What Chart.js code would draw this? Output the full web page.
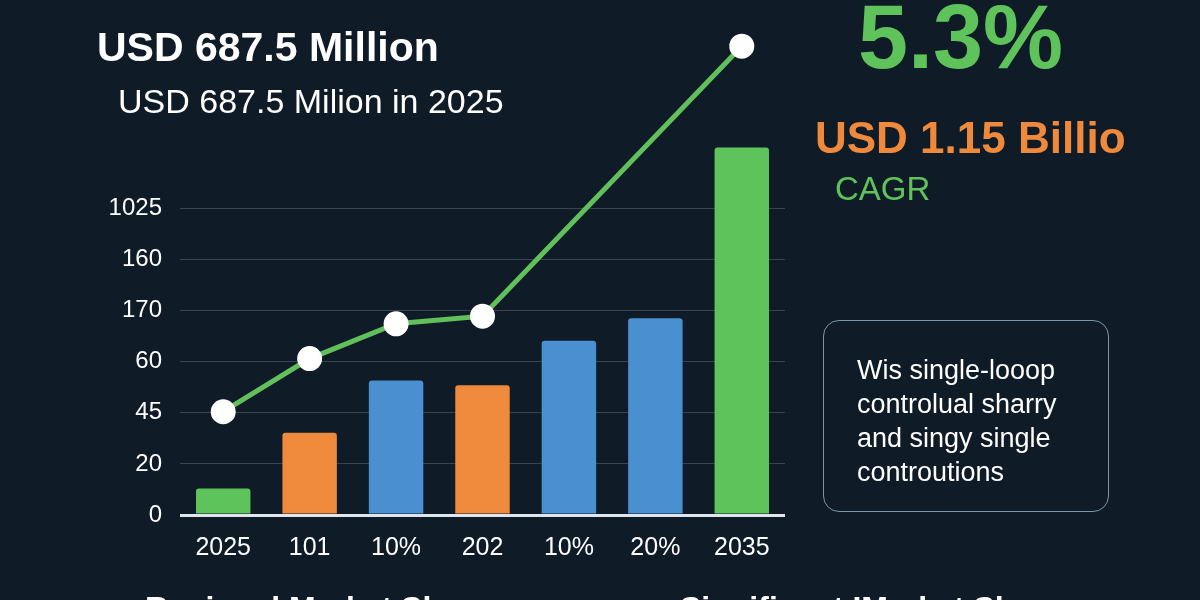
<!DOCTYPE html>
<html>
<head>
<meta charset="utf-8">
<script src="https://cdn.jsdelivr.net/npm/chart.js@4"></script>
<style>
  body { margin: 0; width: 1200px; height: 600px; overflow: hidden; background: #0f1b27; font-family: "Liberation Sans", Arial, sans-serif; color: #fff; position: relative; }
  #wrap { position: absolute; left: 0; top: 0; width: 1200px; height: 600px; }
  .t { position: absolute; white-space: nowrap; }
  #box { position: absolute; left: 823px; top: 320px; width: 286px; height: 192px; border: 1.5px solid #7f95aa; border-radius: 16px; box-sizing: border-box; padding: 32px 0 0 33px; font-size: 27px; line-height: 34px; }
</style>
</head>
<body>
<div id="wrap"><canvas id="grafico" width="1200" height="600"></canvas></div>
<div class="t" style="left:97px;top:24px;font-size:41px;font-weight:bold;">USD 687.5 Million</div>
<div class="t" style="left:118px;top:82px;font-size:34px;">USD 687.5 Milion in 2025</div>
<div class="t" style="left:858px;top:-14px;font-size:90px;font-weight:bold;color:#5fc35c;">5.3%</div>
<div class="t" style="left:815px;top:113px;font-size:44px;font-weight:bold;color:#ef8a3c;">USD 1.15 Billio</div>
<div class="t" style="left:835px;top:170px;font-size:33px;color:#5fc35c;">CAGR</div>
<div id="box">Wis single-looop<br>controlual sharry<br>and singy single<br>controutions</div>
<div class="t" style="left:145px;top:590px;font-size:32px;font-weight:bold;">Regional Market Share</div>
<div class="t" style="left:680px;top:590px;font-size:32px;font-weight:bold;">Significant IMarket Sh</div>
<script>
// Datos del gráfico
const categorias = ['2025', '101', '10%', '202', '10%', '20%', '2035'];
const valoresBarras = [0.52, 1.61, 2.63, 2.54, 3.41, 3.85, 7.19];
const coloresBarras = ['#5fc35c', '#ef8a3c', '#4a90d0', '#ef8a3c', '#4a90d0', '#4a90d0', '#5fc35c'];
const valoresLinea = [2.02, 3.06, 3.74, 3.89, null, null, 9.17];
const etiquetasY = ['0', '20', '45', '60', '170', '160', '1025'];

const ctx = document.getElementById('grafico').getContext('2d');
new Chart(ctx, {
  data: {
    labels: categorias,
    datasets: [{
      type: 'line',
      data: valoresLinea,
      borderColor: '#62c05c',
      borderWidth: 5,
      pointBackgroundColor: '#ffffff',
      pointBorderColor: '#ffffff',
      pointRadius: 10,
      spanGaps: true,
      clip: false,
      order: 0
    }, {
      type: 'bar',
      data: valoresBarras,
      backgroundColor: coloresBarras,
      borderRadius: 3,
      barPercentage: 0.63,
      categoryPercentage: 1,
      order: 1
    }]
  },
  options: {
    responsive: false,
    animation: false,
    layout: { autoPadding: false, padding: { top: 5, right: 415, left: 0, bottom: 0 } },
    plugins: { legend: { display: false }, tooltip: { enabled: false } },
    scales: {
      x: {
        grid: { display: false },
        border: { display: false },
        ticks: { color: '#ffffff', font: { size: 25 }, padding: 10 },
        afterFit: s => { s.height = 85; }
      },
      y: {
        min: 0, max: 9.44,
        afterBuildTicks: s => { s.ticks = etiquetasY.map((_, i) => ({ value: i })); },
        ticks: { color: '#ffffff', font: { size: 24 }, padding: 18, callback: v => etiquetasY[v] },
        grid: {
          drawTicks: false,
          color: c => c.tick && c.tick.value === 0 ? '#dfe6ee' : 'rgba(255,255,255,0.18)',
          lineWidth: c => c.tick && c.tick.value === 0 ? 3 : 1
        },
        border: { display: false },
        afterFit: s => { s.width = 180; }
      }
    }
  }
});
</script>
</body>
</html>
